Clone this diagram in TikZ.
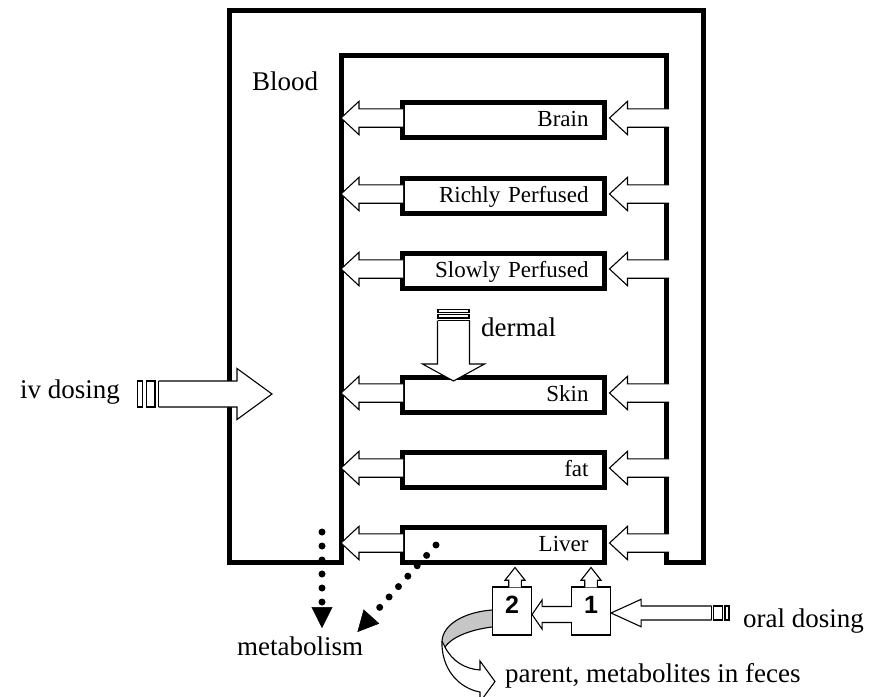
\documentclass[tikz,border=0pt]{standalone}
\usepackage{fontspec}
\setmainfont{Liberation Serif}
\newfontfamily\digitfont{Liberation Sans}
\usetikzlibrary{arrows.meta,calc}

\tikzset{
  wall/.style={line width=5pt, line join=miter},
  organ/.style={draw, line width=5pt, fill=white, minimum width=202pt, minimum height=35pt,
    text width=170pt, align=right, inner xsep=16pt, text height=15pt, text depth=2pt,
    font=\fontsize{23}{26}\selectfont},
  blockarrow/.style={fill=white, draw, line width=1.1pt, line join=miter},
  tapebar/.style={line width=1.1pt},
  ribbon/.style={fill=gray!45, draw, line width=1.1pt},
  numbox/.style={draw, line width=1.1pt, fill=white, minimum width=39pt, minimum height=48pt,
    text depth=13pt, font=\digitfont\bfseries\fontsize{25}{28}\selectfont},
  txt/.style={inner sep=0pt, font=\fontsize{27}{30}\selectfont},
  dotarrow/.style={line width=7pt, line cap=round, dash pattern=on 0pt off 14pt,
    -{Triangle[length=21pt,width=21pt,line width=0.5pt]}}
}

% block arrow: {tail}{tip}{shaft half}{head half}{head length}
\newcommand{\fatarrow}[5]{%
  \coordinate (fa-t) at #1;
  \coordinate (fa-p) at #2;
  \coordinate (fa-b) at ($(fa-p)!#5!(fa-t)$);
  \coordinate (fa-t1) at ($(fa-t)!#3!90:(fa-p)$);
  \coordinate (fa-t2) at ($(fa-t)!#3!-90:(fa-p)$);
  \filldraw[blockarrow] (fa-t1) -- ($(fa-b)!#3!90:(fa-p)$) -- ($(fa-b)!#4!90:(fa-p)$) -- (fa-p)
    -- ($(fa-b)!#4!-90:(fa-p)$) -- ($(fa-b)!#3!-90:(fa-p)$) -- (fa-t2);
}

\begin{document}
\begin{tikzpicture}[x=1pt, y=-1pt]
\useasboundingbox (0,0) rectangle (874,696);

% blood compartment
\draw[wall] (229,10) -- (703,10) -- (703,562.5) -- (666,562.5) -- (666,55)
  -- (341,55) -- (341,562.5) -- (229,562.5) -- cycle;
\coordinate (wallL) at (341,0);
\coordinate (wallR) at (666,0);
\node[txt, anchor=base west] (blood) at (252,90) {Blood};

% tissues
\foreach \y/\n/\txt in {120/brain/Brain, 196/rich/Richly Perfused, 271/slow/Slowly Perfused,
    395/skin/Skin, 470/fat/fat, 545/liver/Liver}{
  \node[organ] (\n) at (503.5,\y) {\txt};
}
\foreach \n in {brain,rich,slow,skin,fat,liver}{
  \fatarrow{($(\n.east -| wallR)+(3,-2)$)}{($(\n.east)+(2.5,-2)$)}{9.2pt}{16.7pt}{18pt}
  \fatarrow{($(\n.west)+(3,-2)$)}{($(\n.west -| wallL)+(0,-2)$)}{9.2pt}{16.7pt}{18pt}
}

% dermal
\coordinate (dermtail) at (453.5,320.5);
\fatarrow{(dermtail)}{($(skin.north -| dermtail)+(0,6)$)}{16pt}{31pt}{17pt}
\draw[tapebar] (fa-t1) -- (fa-t2);
\draw[tapebar] ($(dermtail)+(-15.5,-11)$) rectangle ++(31,3);
\draw[tapebar] ($(dermtail)+(-15.5,-6)$) rectangle ++(31,3.5);
\node[txt, anchor=base west] (dermal) at (481,336) {dermal};

% iv dosing
\coordinate (ivtail) at (158.5,394);
\coordinate (ivtip) at (272,394);
\fatarrow{(ivtail)}{(ivtip)}{13pt}{25.5pt}{35pt}
\draw[tapebar] (fa-t1) -- (fa-t2);
\draw[tapebar] ($(ivtail)+(-21.2,-13)$) rectangle ++(5.4,26);
\draw[tapebar] ($(ivtail)+(-11.8,-13)$) rectangle ++(8.3,26);
\node[txt, anchor=base east] (iv) at (120,398) {iv dosing};

% feces
\filldraw[blockarrow] (442,641) .. controls (441,668) and (458,688) .. (480,692) -- (480,702)
  -- (495,681.5) -- (480,661) -- (480,670) .. controls (465,669) and (452,661) .. (445,647);
\filldraw[ribbon] (492,610) .. controls (465,612) and (443,624) .. (442,641) -- (445,647)
  .. controls (451,638) and (468,630) .. (492,627);
\node[txt, anchor=base west] (feces) at (505,682) {parent, metabolites in feces};

% oral dosing
\node[numbox] (two) at (512,611) {2};
\node[numbox] (one) at (591,611) {1};
\fatarrow{($(one.north)+(0,1)$)}{($(one.north |- liver.south)+(0,2.5)$)}{6.3pt}{10pt}{12.7pt}
\fatarrow{($(two.north)+(3,1)$)}{($(two.north |- liver.south)+(3,2.5)$)}{6.3pt}{10pt}{12.7pt}
\fatarrow{($(one.west)+(1,3.5)$)}{($(two.east)+(0,3.5)$)}{8pt}{14.5pt}{10pt}
\coordinate (oraltail) at (711.5,613);
\fatarrow{(oraltail)}{($(one.east)+(0,2)$)}{7pt}{13.7pt}{30pt}
\draw[tapebar] (fa-t1) -- (fa-t2);
\draw[tapebar] ($(oraltail)+(2,-7)$) rectangle ++(9,14);
\draw[tapebar] ($(oraltail)+(13.5,-7)$) rectangle ++(4,14);
\node[txt, anchor=base west] (oral) at (743,627) {oral dosing};

% metabolism
\node[txt, anchor=base west] (metab) at (237,655) {metabolism};
\coordinate (metA) at (322,532);
\coordinate (metB) at (436,545);
\draw[dotarrow, shorten >=8pt] (metA) -- (metA |- metab.north);
\draw[dotarrow] (metB) -- ($(metab.north east)+(-6,-4)$);
\end{tikzpicture}
\end{document}
